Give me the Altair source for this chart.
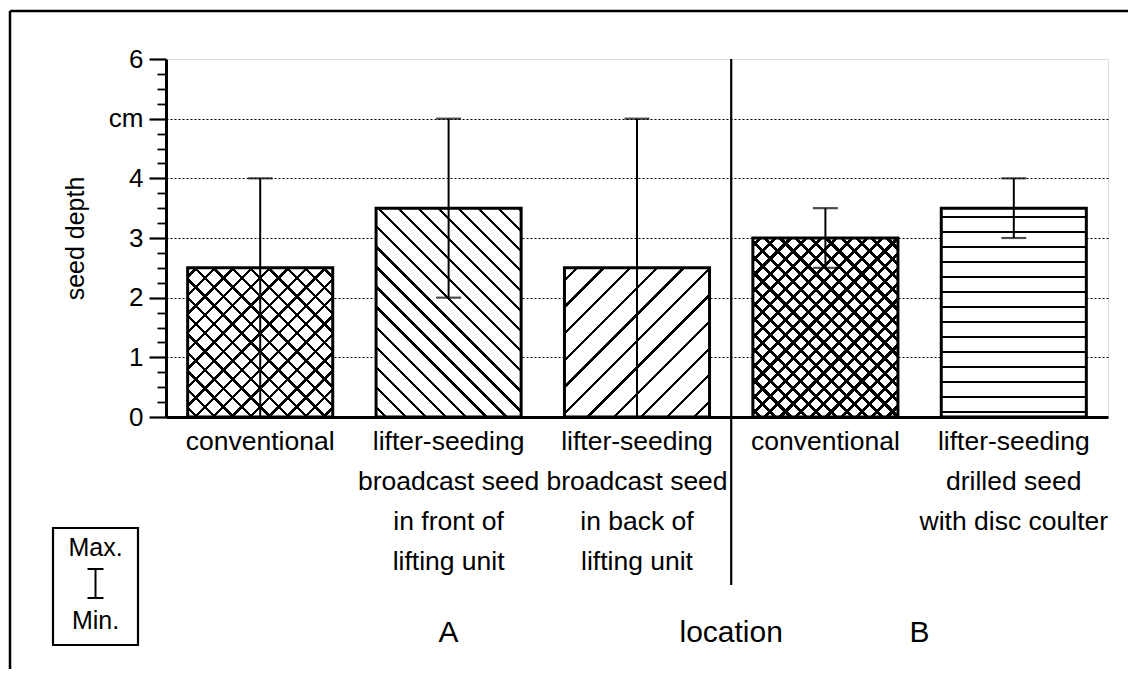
import json
import math
import numpy as np
import pandas as pd
import altair as alt

# ---------------- data ----------------
keys = ["A1", "A2", "A3", "B1", "B2"]
x_labels = [
    "conventional",
    "lifter-seeding|broadcast seed|in front of|lifting unit",
    "lifter-seeding|broadcast seed|in back of|lifting unit",
    "conventional",
    "lifter-seeding|drilled seed|with disc coulter",
]
depth = [2.5, 3.5, 2.5, 3.0, 3.5]
depth_min = [0.0, 2.0, 0.0, 2.5, 3.0]
depth_max = [4.0, 5.0, 5.0, 3.5, 4.0]
patterns = ["cross", "back", "fwd", "crossfine", "horiz"]
y_tick_labels = ["0", "1", "2", "3", "4", "cm", "6"]
location_labels = ["A", "location", "B"]

# ---------------- layout / style ----------------
W, H = 942, 358
PAD_INNER = 0.23
step = W / 5
bw = step * (1 - PAD_INNER)
ppu = H / 6
FONT = "Liberation Sans"
CLEAR = "rgba(0,0,0,0)"
INK = "#000000"

df = pd.DataFrame({"key": keys, "depth": depth, "dmin": depth_min, "dmax": depth_max})


def stripe_stops(L, spacing, lw, phase):
    stops = []
    d = phase
    while d - lw / 2 < L:
        a = max(0.0, (d - lw / 2) / L)
        b = min(1.0, (d + lw / 2) / L)
        if b > 0:
            a, b = round(a, 5), round(b, 5)
            stops += [
                {"offset": a, "color": CLEAR},
                {"offset": a, "color": INK},
                {"offset": b, "color": INK},
                {"offset": b, "color": CLEAR},
            ]
        d += spacing
    return stops


def grad_diag(w, h, spacing, lw, kind, phase):
    L = (w + h) / math.sqrt(2)
    t = (1 / h + 1 / w) / (1 / h ** 2 + 1 / w ** 2)
    if kind == "back":  # "\" lines
        x1, y1, x2, y2 = 0, 1, t / h, 1 - t / w
    else:  # "/" lines
        x1, y1, x2, y2 = 0, 0, t / h, t / w
    return {"gradient": "linear", "x1": x1, "y1": y1, "x2": x2, "y2": y2,
            "stops": stripe_stops(L, spacing, lw, phase)}


def grad_horiz(h, spacing, lw, phase):
    return {"gradient": "linear", "x1": 0, "y1": 1, "x2": 0, "y2": 0,
            "stops": stripe_stops(h, spacing, lw, phase)}


y_vals = [float(v) for v in np.arange(0, 6.001, 0.25)]
y_axis = alt.Axis(
    values=y_vals,
    title="seed depth",
    titleFontSize=25,
    titleFontWeight="normal",
    titleFont=FONT,
    titleColor="black",
    titleAngle=270,
    titleAlign="center",
    titleBaseline="middle",
    titleX=-91,
    titleY=H / 2,
    labelExpr="datum.value % 1 === 0 ? " + json.dumps(y_tick_labels) + "[datum.value] : ''",
    labelFontSize=26,
    labelFont=FONT,
    labelColor="black",
    labelPadding=6,
    labelOverlap=False,
    labelFlush=False,
    tickSize={"condition": {"test": "datum.value % 1 === 0", "value": 17}, "value": 9},
    tickWidth={"condition": {"test": "datum.value % 1 === 0", "value": 2.2}, "value": 1.8},
    tickColor="black",
    grid=True,
    gridColor="black",
    gridWidth=1.2,
    gridDash=[2, 2],
    gridOpacity={"condition": {"test": "datum.value % 1 === 0 && datum.value > 0 && datum.value < 6", "value": 1}, "value": 0},
    domainColor="black",
    domainWidth=3,
)

x_axis = alt.Axis(
    title=None,
    labelExpr="split(" + json.dumps(x_labels) + "[indexof(" + json.dumps(keys) + ", datum.value)], '|')",
    labelAngle=0,
    labelFontSize=26.5,
    labelFont=FONT,
    labelColor="black",
    labelLineHeight=40,
    labelPadding=11,
    labelLimit=500,
    labelOverlap=False,
    labelBaseline="top",
    ticks=False,
    domainColor="black",
    domainWidth=3,
)

xenc = alt.X("key:N", sort=keys, axis=x_axis,
             scale=alt.Scale(paddingInner=PAD_INNER, paddingOuter=PAD_INNER / 2))
yscale = alt.Scale(domain=[0, 6], nice=False)

base = alt.Chart(df).encode(
    x=xenc,
    y=alt.Y("depth:Q", scale=yscale, axis=y_axis),
)

layers = [base.mark_bar(fill="white", strokeWidth=0)]

# hatch patterns
for k, pat, v in zip(keys, patterns, depth):
    h = v * ppu
    fills = []
    if pat == "cross":
        fills = [grad_diag(bw, h, 13.0, 2.4, "back", 6.5), grad_diag(bw, h, 13.0, 2.4, "fwd", 6.5)]
    elif pat == "crossfine":
        fills = [grad_diag(bw, h, 10.8, 3.0, "back", 5.4), grad_diag(bw, h, 10.8, 3.0, "fwd", 5.4)]
    elif pat == "back":
        fills = [grad_diag(bw, h, 14.2, 2.3, "back", 7.0)]
    elif pat == "fwd":
        fills = [grad_diag(bw, h, 18.8, 2.3, "fwd", 9.0)]
    elif pat == "horiz":
        fills = [grad_horiz(h, 15.0, 2.4, 5.0)]
    for g in fills:
        layers.append(
            base.transform_filter(alt.datum.key == k).mark_bar(fill=g, strokeWidth=0)
        )

# bar outlines
layers.append(base.mark_bar(filled=False, stroke="black", strokeWidth=3))

# error bars (min - max)
err = alt.Chart(df).encode(x=xenc)
layers.append(err.mark_rule(color="black", strokeWidth=2).encode(
    y=alt.Y("dmin:Q", scale=yscale, axis=y_axis), y2="dmax:Q"))
layers.append(err.mark_tick(color="black", size=25, thickness=2.2).encode(
    y=alt.Y("dmax:Q", scale=yscale, axis=y_axis)))
layers.append(err.mark_tick(color="black", size=25, thickness=2.2).encode(
    y=alt.Y("dmin:Q", scale=yscale, axis=y_axis)))

one = alt.Chart(pd.DataFrame({"o": [0]}))

# divider between locations A and B
layers.append(one.mark_rule(color="black", strokeWidth=2.2).encode(
    x=alt.value(3 * step), y=alt.value(0), y2=alt.value(526)))

# location labels
loc_df = pd.DataFrame({"label": location_labels, "xp": [1.5 * step, 3 * step, 4 * step]})
layers.append(alt.Chart(loc_df).mark_text(fontSize=30, font=FONT, color="black", baseline="middle").encode(
    x=alt.X("xp:Q", scale=None), y=alt.value(574), text="label:N"))

# Max/Min key box
layers.append(one.mark_rect(fill="white", stroke="black", strokeWidth=2.2).encode(
    x=alt.value(-113), x2=alt.value(-28), y=alt.value(469), y2=alt.value(586)))
key_df = pd.DataFrame({"label": ["Max.", "Min."], "yp": [489, 562]})
layers.append(alt.Chart(key_df).mark_text(fontSize=25, font=FONT, color="black", baseline="middle").encode(
    x=alt.value(-70.5), y=alt.Y("yp:Q", scale=None), text="label:N"))
layers.append(one.mark_rule(color="black", strokeWidth=2).encode(
    x=alt.value(-70.5), y=alt.value(510), y2=alt.value(539)))
layers.append(one.mark_rule(color="black", strokeWidth=2).encode(
    x=alt.value(-78.5), x2=alt.value(-62.5), y=alt.value(510)))
layers.append(one.mark_rule(color="black", strokeWidth=2).encode(
    x=alt.value(-78.5), x2=alt.value(-62.5), y=alt.value(539)))

# outer figure frame (left and top edges visible)
layers.append(one.mark_rule(color="black", strokeWidth=2.5).encode(
    x=alt.value(-156), y=alt.value(-48), y2=alt.value(700)))
layers.append(one.mark_rule(color="black", strokeWidth=2.5).encode(
    x=alt.value(-156), x2=alt.value(1100), y=alt.value(-48)))

chart = alt.layer(*layers).properties(
    width=W,
    height=H,
    autosize=alt.AutoSizeParams(type="none"),
    padding={"left": 158, "top": 51, "right": 20, "bottom": 252},
    background="white",
).configure_view(
    stroke="black", strokeWidth=3
).configure(font=FONT)

chart.save("out.html", embed_options={"renderer": "svg", "actions": False})
